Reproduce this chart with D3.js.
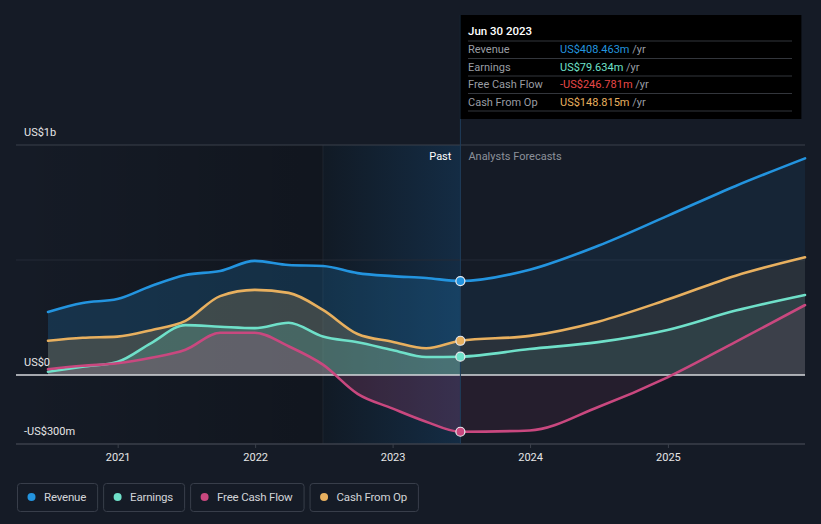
<!DOCTYPE html>
<html>
<head>
<meta charset="utf-8">
<script src="https://cdn.jsdelivr.net/npm/d3@7"></script>
<style>
  html, body { margin: 0; padding: 0; background: #151b26; }
  svg { display: block; font-family: Roboto, "Noto Sans", sans-serif; }
</style>
</head>
<body>
<svg id="chart" width="821" height="524"></svg>
<script>
// ---------- data ----------
const dates = ["2020-06-30","2020-09-30","2020-12-31","2021-03-31","2021-06-30","2021-09-30","2021-12-31",
  "2022-03-31","2022-06-30","2022-09-30","2022-12-31","2023-03-31","2023-06-30",
  "2023-12-31","2024-06-30","2024-12-31","2025-06-30","2025-12-31"];
const revenue  = [274, 313, 330, 387, 435, 452, 496, 478, 474, 443, 430, 422, 408.463, 458, 562, 692, 822, 942];
const earnings = [14, 36, 57, 139, 217, 210, 204, 227, 167, 142, 109, 78, 79.634, 113, 143, 196, 280, 348];
const fcf      = [25, 40, 51, 75, 110, 184, 184, 125, 45, -82, -145, -203, -246.781, -241, -139, -10, 144, 304];
const cfo      = [149, 162, 167, 195, 235, 343, 370, 357, 283, 178, 145, 116, 148.815, 170, 232, 328, 432, 512];
const seriesNames = ["Revenue", "Earnings", "Free Cash Flow", "Cash From Op"];
const yTickValues = [1000, 0, -300];
const yTickLabels = ["US$1b", "US$0", "-US$300m"];
const xTickYears = [2021, 2022, 2023, 2024, 2025];
const pastStart = "2022-06-30";
const pastEnd = "2023-06-30";
const tooltipTitle = "Jun 30 2023";
const tooltipValues = ["US$408.463m", "US$79.634m", "-US$246.781m", "US$148.815m"];

const colors = ["#2394df", "#6fe0c9", "#c9487f", "#e8b05f"];
const tooltipColors = ["#2394df", "#6fe0c9", "#e84848", "#e8b05f"];

// ---------- setup ----------
const parse = d3.timeParse("%Y-%m-%d");
const D = dates.map(parse);
const svg = d3.select("#chart");
const x = d3.scaleTime().domain([parse("2020-06-30"), parse("2025-12-31")]).range([48, 805]);
const y = d3.scaleLinear().domain([-300, 1000]).range([444, 145]);
const xPastStart = x(parse(pastStart)), xPastEnd = x(parse(pastEnd));
const left = 16, right = 805;

const defs = svg.append("defs");
const gDark = defs.append("linearGradient").attr("id", "gDark").attr("x1", 0).attr("x2", 1).attr("y1", 0).attr("y2", 0);
gDark.append("stop").attr("offset", 0).attr("stop-color", "#000").attr("stop-opacity", 0);
gDark.append("stop").attr("offset", 1).attr("stop-color", "#000").attr("stop-opacity", 0.2);
const gPast = defs.append("linearGradient").attr("id", "gPast").attr("x1", 0).attr("x2", 1).attr("y1", 0).attr("y2", 0);
gPast.append("stop").attr("offset", 0).attr("stop-color", "#111a25");
gPast.append("stop").attr("offset", 1).attr("stop-color", "#142c44");

defs.append("clipPath").attr("id", "clipPast").append("rect")
  .attr("x", 0).attr("y", 0).attr("width", xPastEnd).attr("height", 524);
defs.append("clipPath").attr("id", "clipFut").append("rect")
  .attr("x", xPastEnd).attr("y", 0).attr("width", 821 - xPastEnd).attr("height", 524);

// backgrounds
svg.append("rect").attr("x", left).attr("y", y(1000)).attr("width", xPastStart - left).attr("height", y(-300) - y(1000))
  .attr("fill", "url(#gDark)");
svg.append("rect").attr("x", xPastStart).attr("y", y(1000)).attr("width", xPastEnd - xPastStart).attr("height", y(-300) - y(1000))
  .attr("fill", "url(#gPast)");
svg.append("line").attr("x1", xPastStart).attr("x2", xPastStart).attr("y1", y(1000)).attr("y2", y(-300))
  .attr("stroke", "#ffffff").attr("stroke-opacity", 0.06);

// grid lines
svg.append("line").attr("x1", left).attr("x2", right).attr("y1", y(1000)).attr("y2", y(1000)).attr("stroke", "#3b404b").attr("stroke-width", 1);
svg.append("line").attr("x1", left).attr("x2", right).attr("y1", y(500)).attr("y2", y(500)).attr("stroke", "#252b36").attr("stroke-width", 1);

// areas and lines
const allSeries = [revenue, earnings, fcf, cfo];
const drawOrder = [0, 3, 1, 2];
const area = vals => d3.area().curve(d3.curveMonotoneX)
  .x((d, i) => x(D[i])).y0(y(0)).y1(d => y(d))(vals);
const line = vals => d3.line().curve(d3.curveMonotoneX)
  .x((d, i) => x(D[i])).y(d => y(d))(vals);

const gAreaPast = svg.append("g").attr("clip-path", "url(#clipPast)");
const gAreaFut = svg.append("g").attr("clip-path", "url(#clipFut)");
drawOrder.forEach(k => {
  gAreaPast.append("path").attr("d", area(allSeries[k])).attr("fill", colors[k]).attr("fill-opacity", 0.2);
  gAreaFut.append("path").attr("d", area(allSeries[k])).attr("fill", colors[k]).attr("fill-opacity", 0.09);
});

// zero line
svg.append("line").attr("x1", left).attr("x2", right).attr("y1", y(0)).attr("y2", y(0)).attr("stroke", "#d6d8dc").attr("stroke-width", 1.5);
// bottom axis line
svg.append("line").attr("x1", left).attr("x2", right).attr("y1", y(-300)).attr("y2", y(-300)).attr("stroke", "#3b404b").attr("stroke-width", 1.5);

drawOrder.forEach(k => {
  svg.append("path").attr("d", line(allSeries[k])).attr("fill", "none")
    .attr("stroke", colors[k]).attr("stroke-width", 2.6).attr("stroke-linecap", "round");
});

// x axis
const xAxis = d3.axisBottom(x).tickValues(xTickYears.map(yr => new Date(yr, 0, 1)))
  .tickFormat(d3.timeFormat("%Y")).tickSize(4).tickPadding(5);
const gx = svg.append("g").attr("transform", `translate(0,${y(-300)})`).call(xAxis);
gx.select(".domain").remove();
gx.selectAll(".tick line").attr("stroke", "#3b404b");
gx.selectAll(".tick text").attr("fill", "#e6e6e6").attr("font-size", 11).attr("font-family", "Roboto, sans-serif");

// y labels
yTickValues.forEach((v, i) => {
  svg.append("text").attr("x", 24).attr("y", y(v) - 9).attr("fill", "#e6e6e6")
    .attr("font-size", 11).text(yTickLabels[i]);
});

// vertical marker line
svg.append("line").attr("x1", xPastEnd).attr("x2", xPastEnd).attr("y1", 15).attr("y2", y(-300))
  .attr("stroke", "#1f3d5a").attr("stroke-width", 1);

// past / forecast labels
svg.append("text").attr("x", xPastEnd - 9).attr("y", 160).attr("text-anchor", "end")
  .attr("fill", "#ffffff").attr("font-size", 11).text("Past");
svg.append("text").attr("x", xPastEnd + 8).attr("y", 160)
  .attr("fill", "#8c919a").attr("font-size", 11).text("Analysts Forecasts");

// dots
const lastIdx = dates.indexOf(pastEnd);
[0, 3, 1, 2].forEach(k => {
  svg.append("circle").attr("cx", x(D[lastIdx])).attr("cy", y(allSeries[k][lastIdx])).attr("r", 4.5)
    .attr("fill", colors[k]).attr("stroke", "#e8eaee").attr("stroke-width", 1.2);
});

// tooltip
const tt = svg.append("g");
tt.append("rect").attr("x", xPastEnd).attr("y", 15).attr("width", 341).attr("height", 104).attr("fill", "#000000");
tt.append("text").attr("x", 468).attr("y", 35).attr("fill", "#ffffff").attr("font-size", 11.5).attr("font-weight", 500).text(tooltipTitle);
const sepY = [41, 58.5, 76, 93.5, 111];
sepY.forEach(sy => tt.append("line").attr("x1", 468).attr("x2", 792).attr("y1", sy).attr("y2", sy).attr("stroke", "#33363c"));
const rowY = [53, 70.5, 88, 105.5];
seriesNames.forEach((n, i) => {
  tt.append("text").attr("x", 468).attr("y", rowY[i]).attr("fill", "#9a9da3").attr("font-size", 11).text(n);
  const t = tt.append("text").attr("x", 560).attr("y", rowY[i]).attr("font-size", 11);
  t.append("tspan").attr("fill", tooltipColors[i]).text(tooltipValues[i]);
  t.append("tspan").attr("fill", "#9a9da3").text(" /yr");
});

// legend
const lg = svg.append("g");
let lx = 17;
seriesNames.forEach((n, i) => {
  const g = lg.append("g");
  const txt = g.append("text").attr("x", lx + 27).attr("y", 500.5).attr("fill", "#d2d4d8")
    .attr("font-size", 11.5).attr("letter-spacing", -0.2).text(n);
  const w = txt.node().getComputedTextLength() + 27 + 11;
  g.insert("rect", "text").attr("x", lx + 0.5).attr("y", 483.5).attr("width", w).attr("height", 28)
    .attr("rx", 3).attr("fill", "none").attr("stroke", "#383e4a");
  g.append("circle").attr("cx", lx + 14.5).attr("cy", 497).attr("r", 4).attr("fill", colors[i]);
  lx += w + 6;
});
</script>
</body>
</html>
